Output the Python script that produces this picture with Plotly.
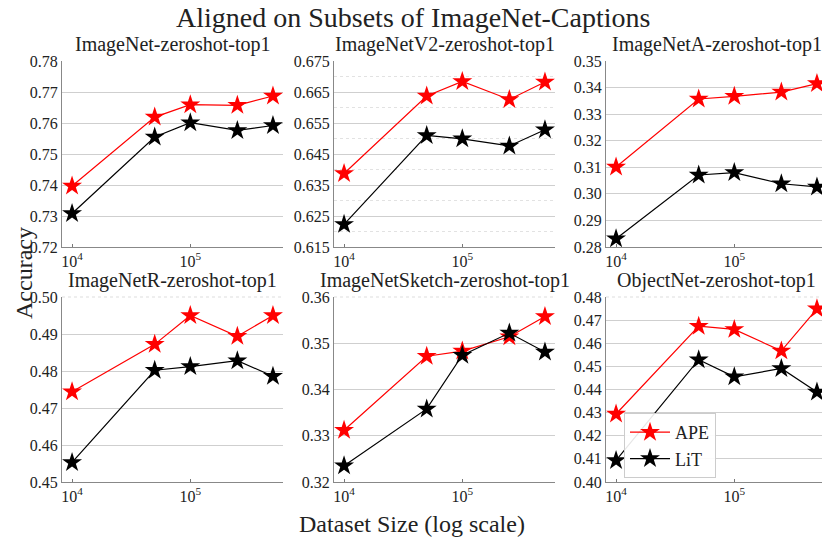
import plotly.graph_objects as go

sizes = [1e4, 5e4, 1e5, 2.5e5, 5e5]

titles = [
    "ImageNet-zeroshot-top1",
    "ImageNetV2-zeroshot-top1",
    "ImageNetA-zeroshot-top1",
    "ImageNetR-zeroshot-top1",
    "ImageNetSketch-zeroshot-top1",
    "ObjectNet-zeroshot-top1",
]

ape_imagenet = [0.7397, 0.7619, 0.7659, 0.7657, 0.7687]
lit_imagenet = [0.7308, 0.7555, 0.7601, 0.7576, 0.7592]
ape_v2 = [0.6387, 0.6637, 0.6684, 0.6626, 0.6682]
lit_v2 = [0.6223, 0.6510, 0.6499, 0.6476, 0.6528]
ape_a = [0.3101, 0.3357, 0.3367, 0.3383, 0.3415]
lit_a = [0.2831, 0.3071, 0.3080, 0.3038, 0.3026]
ape_r = [0.4744, 0.4872, 0.4950, 0.4894, 0.4950]
lit_r = [0.4553, 0.4802, 0.4812, 0.4828, 0.4786]
ape_sketch = [0.3312, 0.3472, 0.3483, 0.3514, 0.3558]
lit_sketch = [0.3235, 0.3358, 0.3474, 0.3522, 0.3481]
ape_objectnet = [0.4294, 0.4674, 0.4660, 0.4567, 0.4749]
lit_objectnet = [0.4093, 0.4529, 0.4455, 0.4491, 0.4389]

ape_all = [ape_imagenet, ape_v2, ape_a, ape_r, ape_sketch, ape_objectnet]
lit_all = [lit_imagenet, lit_v2, lit_a, lit_r, lit_sketch, lit_objectnet]

# y ranges / ticks per panel (as matplotlib drew them)
y_ranges = [(0.72, 0.78), (0.615, 0.675), (0.28, 0.35), (0.45, 0.50), (0.32, 0.36), (0.40, 0.48)]
y_dticks = [0.01, 0.01, 0.01, 0.01, 0.01, 0.01]
y_formats = [".2f", ".3f", ".2f", ".2f", ".2f", ".2f"]

# the page body has an 8px margin, so the figure is drawn 8px smaller
# and all pixel positions below (window coords) are shifted by OFF
OFF = 8
W, H = 830 - OFF, 546 - OFF
col_px = [(62, 283), (334, 555), (606, 827)]
row_px = [(61, 247), (297, 482)]


def px_x(p):
    return (p - OFF) / W


def px_y(p):
    return 1 - (p - OFF) / H


FONT = "Liberation Serif"

fig = go.Figure()
annotations = []
shapes = []

for i in range(6):
    r, c = divmod(i, 3)
    n = "" if i == 0 else str(i + 1)
    xa, ya = "x" + n, "y" + n
    show = i == 5
    fig.add_trace(go.Scatter(
        x=sizes, y=ape_all[i], mode="lines+markers", name="APE",
        line=dict(color="red", width=1.2),
        marker=dict(symbol="star", size=15, color="red"),
        xaxis=xa, yaxis=ya, showlegend=show))
    fig.add_trace(go.Scatter(
        x=sizes, y=lit_all[i], mode="lines+markers", name="LiT",
        line=dict(color="black", width=1.2),
        marker=dict(symbol="star", size=15, color="black"),
        xaxis=xa, yaxis=ya, showlegend=show))

    x0, x1 = col_px[c]
    y0, y1 = row_px[r]
    lo, hi = y_ranges[i]
    fig.update_layout(**{
        "xaxis" + n: dict(
            domain=[px_x(x0), px_x(x1)], type="log", range=[3.915, 5.784],
            tickvals=[1e4, 1e5], ticktext=["10<sup>4</sup>", "10<sup>5</sup>"],
            ticks="inside", ticklen=3, tickcolor="#777", showgrid=False,
            showline=True, linecolor="#888", linewidth=1, zeroline=False,
            anchor=ya, automargin=False,
            tickfont=dict(family=FONT, size=16, color="#222"),
        ),
        "yaxis" + n: dict(
            domain=[px_y(y1), px_y(y0)], range=[lo, hi],
            tick0=lo, dtick=y_dticks[i], tickformat=y_formats[i],
            showgrid=True, gridcolor="#cfcfcf", gridwidth=1,
            showline=True, linecolor="#888", linewidth=1, zeroline=False,
            ticks="", anchor=xa, automargin=False,
            tickfont=dict(family=FONT, size=16, color="#222"),
        ),
    })
    if i == 1:
        fig.update_layout(yaxis2=dict(minor=dict(
            dtick=0.005, tick0=0.615, showgrid=True, gridcolor="#e2e2e2",
            griddash="dot", gridwidth=1)))
    if r == 1:
        # faint dotted line on top of the lower panels
        shapes.append(dict(type="line", xref=xa + " domain", yref=ya + " domain",
                           x0=0, x1=1, y0=1, y1=1,
                           line=dict(color="#dddddd", width=1, dash="dot")))

    annotations.append(dict(
        text=titles[i], x=px_x((x0 + x1) / 2), y=px_y(y0 - 3),
        xref="paper", yref="paper", xanchor="center", yanchor="bottom",
        showarrow=False, font=dict(family=FONT, size=20, color="#222")))

annotations.append(dict(
    text="Aligned on Subsets of ImageNet-Captions", x=px_x(413), y=px_y(18),
    xref="paper", yref="paper", xanchor="center", yanchor="middle",
    showarrow=False, font=dict(family=FONT, size=28, color="#222")))
annotations.append(dict(
    text="Dataset Size (log scale)", x=px_x(412), y=px_y(524),
    xref="paper", yref="paper", xanchor="center", yanchor="middle",
    showarrow=False, font=dict(family=FONT, size=24, color="#222")))
annotations.append(dict(
    text="Accuracy", x=px_x(9), y=px_y(273), textangle=-90,
    xref="paper", yref="paper", xanchor="left", yanchor="middle",
    showarrow=False, font=dict(family=FONT, size=24, color="#222")))

fig.update_layout(
    width=W, height=H,
    margin=dict(l=0, r=0, t=0, b=0),
    plot_bgcolor="white", paper_bgcolor="white",
    annotations=annotations, shapes=shapes,
    legend=dict(
        x=px_x(624), y=px_y(413), xanchor="left", yanchor="top",
        bgcolor="rgba(255,255,255,0.9)", bordercolor="#cccccc", borderwidth=1,
        font=dict(family=FONT, size=18, color="#222"), itemwidth=40,
        tracegroupgap=0,
    ),
)

fig.write_html("out.html")
